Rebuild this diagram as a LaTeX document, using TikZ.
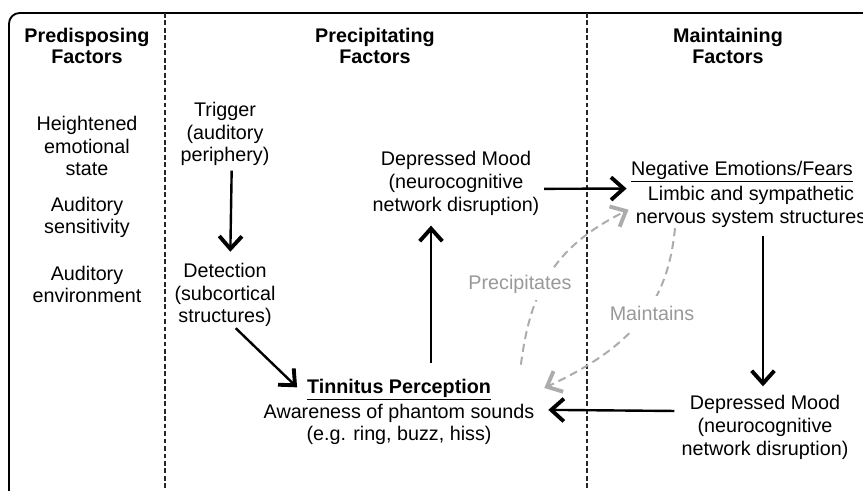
\documentclass[tikz,border=0pt]{standalone}
\usepackage{fontspec}
\setmainfont{Liberation Sans}
\usetikzlibrary{arrows.meta}
\usetikzlibrary{positioning}
\tikzset{
    factor/.style={
      align=center,
      inner sep=3.3pt,
      font=\fontsize{14.8}{17}\selectfont,
    },
    header/.style={
      factor,
      font=\fontsize{14.8}{16}\selectfont\bfseries,
    },
    link/.style={
      -{Straight Barb[length=9.5pt,width=17pt,line width=2.9pt]},
      line width=1.8pt,
    },
    hint/.style={
      link, draw=gray!65, line width=1.5pt,
      dash pattern=on 6pt off 3.75pt,
    },
    note/.style={
      factor, text=gray!80, fill=white,
      inner xsep=2pt, inner ysep=5pt,
    },
    divider/.style={
      draw=black!85, line width=1.5pt,
      dash pattern=on 3.6pt off 2pt,
    },
}

\begin{document}
\begin{tikzpicture}[x=0.75pt,y=-0.75pt]

    \useasboundingbox (0,0) rectangle (863,490);
    \clip (0,0) rectangle (863,490);

    % frame and columns
    \draw[line width=1.4pt, rounded corners=8pt] (9,13) rectangle (900,540);
    \draw[divider] (165,13) -- (165,490);
    \draw[divider] (587,13) -- (587,490);

    \node[header] (PRE) at (87,46) {Predisposing\\Factors};
    \node[header] (PREC) at (375,46) {Precipitating\\Factors};
    \node[header] (MAIN) at (728,46) {Maintaining\\Factors};

    \node[factor] (EMO) at (87,146) {Heightened\\emotional\\state};
    \node[factor, below of=EMO, node distance=53.6pt] (SENS)
    {Auditory\\sensitivity};
    \node[factor, below of=SENS, node distance=50.2pt] (ENV)
    {Auditory\\environment};

    \node[factor] (TRIG) at (225,134) {Trigger\\(auditory\\periphery)};
    \node[factor, below of=TRIG, node distance=120.7pt] (DET)
    {Detection\\(subcortical\\structures)};

    \node[factor] (TTL) at (399,390)
    {\underline{\textbf{Tinnitus Perception}}};
    \node[factor, below of=TTL, node distance=25.9pt] (TINN)
    {Awareness of phantom sounds\\(e.g. ring, buzz, hiss)};

    \node[factor] (DEPM) at (456,183.5)
    {Depressed Mood\\(neurocognitive\\network disruption)};

    \node[factor] (NEGT) at (742,172) {\underline{Negative Emotions/Fears}};
    \node[factor] (NEG) at (751,207)
    {Limbic and sympathetic\\nervous system structures};

    \node[factor] (DEPR) at (765,427.5)
    {Depressed Mood\\(neurocognitive\\network disruption)};

    % cycle
    \draw[link] ([xshift=5pt]TRIG.south) -- ([xshift=4pt,yshift=5pt]DET.north);
    \draw[link] ([xshift=8pt,yshift=2.5pt]DET.south) -- ([xshift=-4pt,yshift=2pt]TTL.west);
    \draw[link] ([xshift=24pt,yshift=8.7pt]TTL.north)
      -- ([xshift=-18.75pt,yshift=-4.2pt]DEPM.south);
    \draw[link] ([yshift=-4pt]DEPM.east) -- ([yshift=-1pt]NEGT.south west);
    \draw[link] ([xshift=9pt,yshift=-2.7pt]NEG.south)
      -- ([xshift=-1.5pt,yshift=3.5pt]DEPR.north);
    \draw[link] ([xshift=-2pt,yshift=12.4pt]DEPR.west)
      -- ([xshift=7pt,yshift=11pt]TINN.east);

    \draw[hint] ([xshift=19pt,yshift=19pt]TTL.east)
      .. controls +(10,-80) and +(-70,35) .. ([xshift=-2pt,yshift=-2pt]NEG.west);
    \draw[hint] ([xshift=-57pt,yshift=3pt]NEG.south)
      .. controls +(-7,72) and +(92,-43) .. ([xshift=36.5pt,yshift=1.5pt]TTL.east);

    \node[note] (PLBL) at (520,284) {Precipitates};
    \node[note, inner ysep=7pt] (MLBL) at (652,313) {Maintains};

\end{tikzpicture}
\end{document}
